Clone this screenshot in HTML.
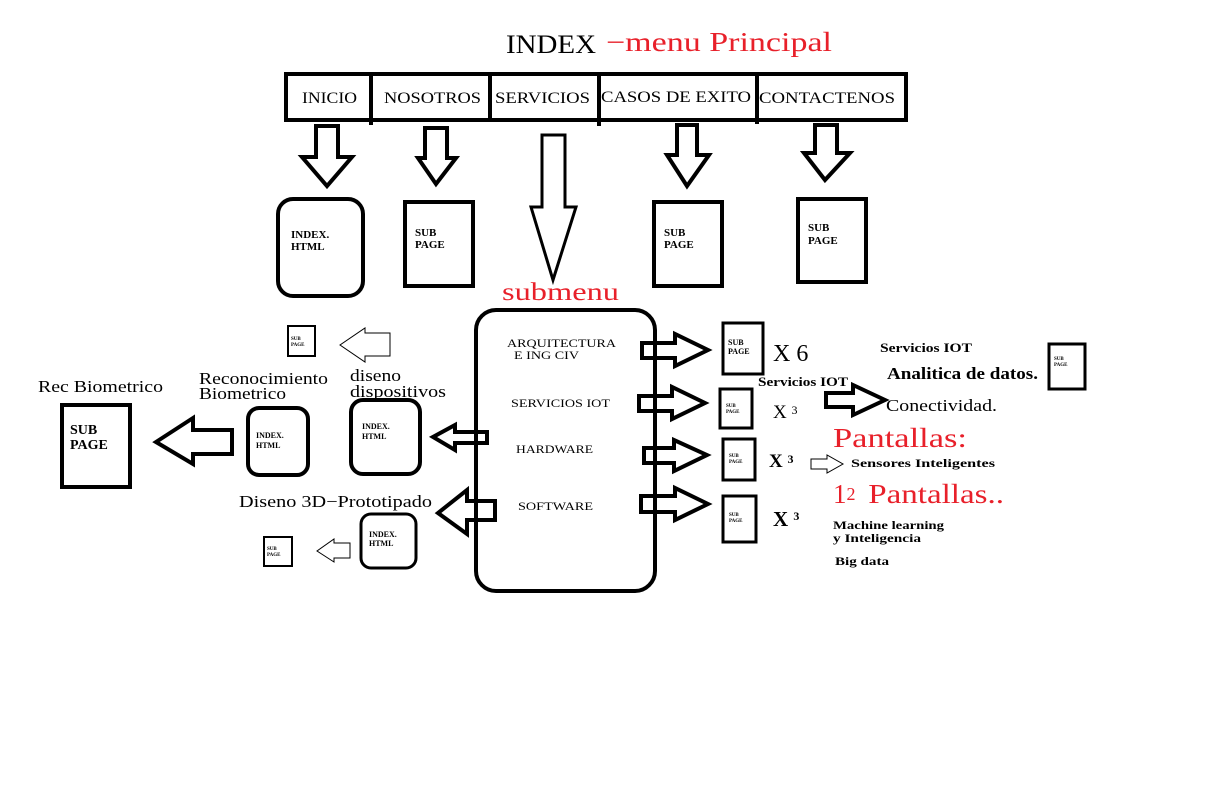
<!DOCTYPE html>
<html><head><meta charset="utf-8"><style>
html,body{margin:0;padding:0;background:#fff;width:1218px;height:798px;overflow:hidden}
svg{display:block}
text{font-family:"Liberation Serif",serif}
</style></head><body>
<svg width="1218" height="798" viewBox="0 0 1218 798" xmlns="http://www.w3.org/2000/svg">
<g fill="none" stroke="#000" stroke-width="4" stroke-linejoin="miter">
<rect x="286" y="74" width="620" height="46"/>
<line x1="371" y1="74" x2="371" y2="125"/>
<line x1="490" y1="74" x2="490" y2="120"/>
<line x1="599" y1="74" x2="599" y2="126"/>
<line x1="757" y1="74" x2="757" y2="124"/>
<polygon points="316,126 338,126 338,157 352,157 327,186 302,157 316,157"/>
<polygon points="425,128 447,128 447,158 456,158 436,184 418,158 425,158"/>
<polygon stroke-width="3" points="542,135 565,135 565,207 576,207 553,280 531,207 542,207"/>
<polygon points="677,125 697,125 697,155 709,155 687,186 667,155 677,155"/>
<polygon points="815,125 837,125 837,153 850,153 825,180 804,153 815,153"/>
<rect x="278" y="199" width="85" height="97" rx="15"/>
<rect x="405" y="202" width="68" height="84"/>
<rect x="654" y="202" width="68" height="84"/>
<rect x="798" y="199" width="68" height="83"/>
<rect x="476" y="310" width="179" height="281" rx="20"/>
<polygon points="642,343 675,343 675,334 708,350 675,366 675,358 642,358"/>
<polygon points="639,396 672,396 672,387 705,403 672,419 672,411 639,411"/>
<polygon points="644,448 674,448 674,440 707,455 674,471 674,463 644,463"/>
<polygon points="641,496 675,496 675,488 708,504 675,520 675,512 641,512"/>
<rect x="723" y="323" width="40" height="51" stroke-width="3"/>
<rect x="720" y="389" width="32" height="39" stroke-width="3"/>
<rect x="723" y="439" width="32" height="41" stroke-width="3"/>
<rect x="723" y="496" width="33" height="46" stroke-width="3"/>
<polygon points="826,393 853,393 853,385 885,400 853,415 853,407 826,407"/>
<rect x="1049" y="344" width="36" height="45" stroke-width="3"/>
<polygon stroke-width="1" points="811,459 827,459 827,455 843,464 827,473 827,469 811,469"/>
<polygon stroke-width="1" points="390,333 390,356 365,356 365,362 340,345 365,328 365,333"/>
<rect x="288" y="326" width="27" height="30" stroke-width="2"/>
<rect x="351" y="400" width="69" height="74" rx="12"/>
<polygon points="487,432 487,443 455,443 455,450 433,437 455,425 455,432"/>
<rect x="248" y="408" width="60" height="67" rx="11"/>
<polygon points="232,430 232,454 193,454 193,464 156,442 193,418 193,430"/>
<rect x="62" y="405" width="68" height="82"/>
<polygon points="495,501 495,520 467,520 467,534 438,513 467,490 467,501"/>
<rect x="361" y="514" width="55" height="54" rx="10" stroke-width="3"/>
<polygon stroke-width="1" points="350,543 350,558 334,558 334,562 317,551 334,539 334,543"/>
<rect x="264" y="537" width="28" height="29" stroke-width="2"/>
</g>
<text x="506" y="53" font-size="26" textLength="90" lengthAdjust="spacingAndGlyphs">INDEX</text>
<text x="606" y="51" font-size="27" fill="#e8202a" textLength="226" lengthAdjust="spacingAndGlyphs">−menu Principal</text>
<text x="502" y="300" font-size="25" fill="#e8202a" textLength="117" lengthAdjust="spacingAndGlyphs">submenu</text>
<g font-size="16">
<text x="302" y="103" textLength="55" lengthAdjust="spacingAndGlyphs">INICIO</text>
<text x="384" y="103" textLength="97" lengthAdjust="spacingAndGlyphs">NOSOTROS</text>
<text x="495" y="103" textLength="95" lengthAdjust="spacingAndGlyphs">SERVICIOS</text>
<text x="601" y="102" textLength="150" lengthAdjust="spacingAndGlyphs">CASOS DE EXITO</text>
<text x="759" y="103" textLength="136" lengthAdjust="spacingAndGlyphs">CONTACTENOS</text>
</g>
<g font-size="11" font-weight="bold">
<text x="291" y="238">INDEX.</text><text x="291" y="250">HTML</text>
<text x="415" y="236">SUB</text><text x="415" y="248">PAGE</text>
<text x="664" y="236">SUB</text><text x="664" y="248">PAGE</text>
<text x="808" y="231">SUB</text><text x="808" y="244">PAGE</text>
<text x="70" y="434" font-size="14">SUB</text><text x="70" y="449" font-size="14">PAGE</text>
</g>
<g font-size="8" font-weight="bold">
<text x="362" y="429">INDEX.</text><text x="362" y="439">HTML</text>
<text x="256" y="438">INDEX.</text><text x="256" y="448">HTML</text>
<text x="369" y="537">INDEX.</text><text x="369" y="546">HTML</text>
<text x="728" y="345">SUB</text><text x="728" y="354">PAGE</text>
</g>
<g font-size="5" font-weight="bold">
<text x="726" y="407">SUB</text><text x="726" y="413">PAGE</text>
<text x="729" y="457">SUB</text><text x="729" y="463">PAGE</text>
<text x="729" y="516">SUB</text><text x="729" y="522">PAGE</text>
<text x="291" y="340">SUB</text><text x="291" y="346">PAGE</text>
<text x="267" y="550">SUB</text><text x="267" y="556">PAGE</text>
<text x="1054" y="360">SUB</text><text x="1054" y="366">PAGE</text>
</g>
<g font-size="12">
<text x="507" y="347" textLength="109" lengthAdjust="spacingAndGlyphs">ARQUITECTURA</text>
<text x="514" y="359" textLength="65" lengthAdjust="spacingAndGlyphs">E ING CIV</text>
<text x="511" y="407" textLength="99" lengthAdjust="spacingAndGlyphs">SERVICIOS IOT</text>
<text x="516" y="453" textLength="77" lengthAdjust="spacingAndGlyphs">HARDWARE</text>
<text x="518" y="510" textLength="75" lengthAdjust="spacingAndGlyphs">SOFTWARE</text>
</g>
<text x="773" y="361" font-size="24">X 6</text>
<text x="773" y="418" font-size="19">X <tspan font-size="12" dy="-4">3</tspan></text>
<text x="769" y="467" font-size="19" font-weight="bold">X <tspan font-size="12" dy="-4">3</tspan></text>
<text x="773" y="526" font-size="21" font-weight="bold">X <tspan font-size="12" dy="-6">3</tspan></text>
<text x="758" y="386" font-size="13" font-weight="bold" textLength="90" lengthAdjust="spacingAndGlyphs">Servicios IOT</text>
<text x="880" y="352" font-size="13" font-weight="bold" textLength="92" lengthAdjust="spacingAndGlyphs">Servicios IOT</text>
<text x="887" y="379" font-size="17" font-weight="bold" textLength="151" lengthAdjust="spacingAndGlyphs">Analitica de datos.</text>
<text x="886" y="411" font-size="17" textLength="111" lengthAdjust="spacingAndGlyphs">Conectividad.</text>
<text x="833" y="447" font-size="27" fill="#e8202a" textLength="134" lengthAdjust="spacingAndGlyphs">Pantallas:</text>
<text x="851" y="467" font-size="12" font-weight="bold" textLength="144" lengthAdjust="spacingAndGlyphs">Sensores Inteligentes</text>
<text x="833" y="503" font-size="27" fill="#e8202a">1<tspan font-size="18" dy="-3">2</tspan><tspan dy="3" x="860" textLength="144" lengthAdjust="spacingAndGlyphs"> Pantallas..</tspan></text>
<g font-size="12" font-weight="bold">
<text x="833" y="529" textLength="111" lengthAdjust="spacingAndGlyphs">Machine learning</text>
<text x="833" y="542" textLength="88" lengthAdjust="spacingAndGlyphs">y Inteligencia</text>
<text x="835" y="565" textLength="54" lengthAdjust="spacingAndGlyphs">Big data</text>
</g>
<g font-size="17">
<text x="38" y="392" textLength="125" lengthAdjust="spacingAndGlyphs">Rec Biometrico</text>
<text x="199" y="384" textLength="129" lengthAdjust="spacingAndGlyphs">Reconocimiento</text>
<text x="199" y="399" textLength="87" lengthAdjust="spacingAndGlyphs">Biometrico</text>
<text x="350" y="381" textLength="51" lengthAdjust="spacingAndGlyphs">diseno</text>
<text x="350" y="397" textLength="96" lengthAdjust="spacingAndGlyphs">dispositivos</text>
<text x="239" y="507" textLength="193" lengthAdjust="spacingAndGlyphs">Diseno 3D−Prototipado</text>
</g>
</svg>
</body></html>
